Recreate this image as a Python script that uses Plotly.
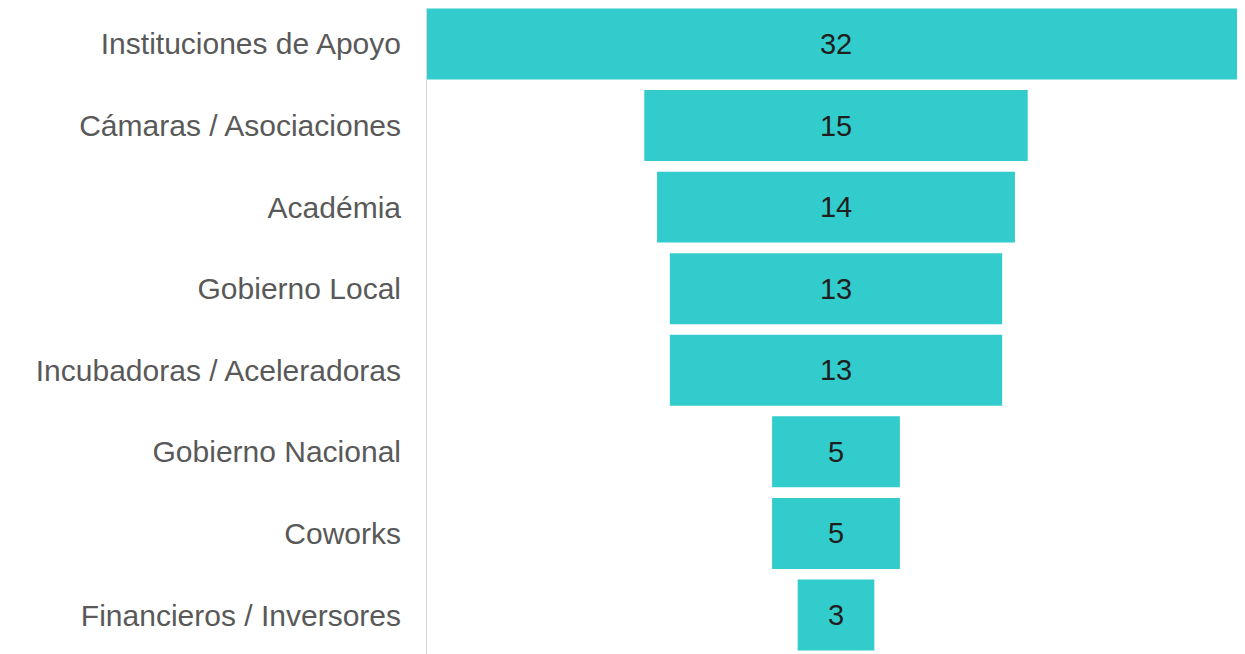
import plotly.graph_objects as go

categories = [
    "Instituciones de Apoyo",
    "Cámaras / Asociaciones",
    "Académia",
    "Gobierno Local",
    "Incubadoras / Aceleradoras",
    "Gobierno Nacional",
    "Coworks",
    "Financieros / Inversores",
]
counts = [32, 15, 14, 13, 13, 5, 5, 3]

fig = go.Figure(go.Funnel(
    y=categories,
    x=counts,
    textinfo="value",
    textposition="inside",
    insidetextanchor="middle",
    textfont=dict(size=29, color="#1f1f1f", family="Liberation Sans, Arial"),
    marker=dict(color="#33CCCC"),
    connector=dict(visible=False),
))

# page body has an 8px margin, so the figure is sized to the visible area
fig.update_layout(
    width=1237, height=646,
    margin=dict(l=419, r=0, t=0, b=0),
    paper_bgcolor="white", plot_bgcolor="white",
    funnelgap=0.13,
    showlegend=False,
    font=dict(family="Liberation Sans, Arial", size=30, color="#595959"),
)
fig.update_xaxes(visible=False, range=[-16, 16])
fig.update_yaxes(
    autorange=False, range=[7.478, -0.441],
    showline=True, linecolor="#d9d9d9", linewidth=1,
    ticks="", ticklabelstandoff=19,
    tickfont=dict(size=30, color="#595959"),
)

fig.write_html("out.html")
